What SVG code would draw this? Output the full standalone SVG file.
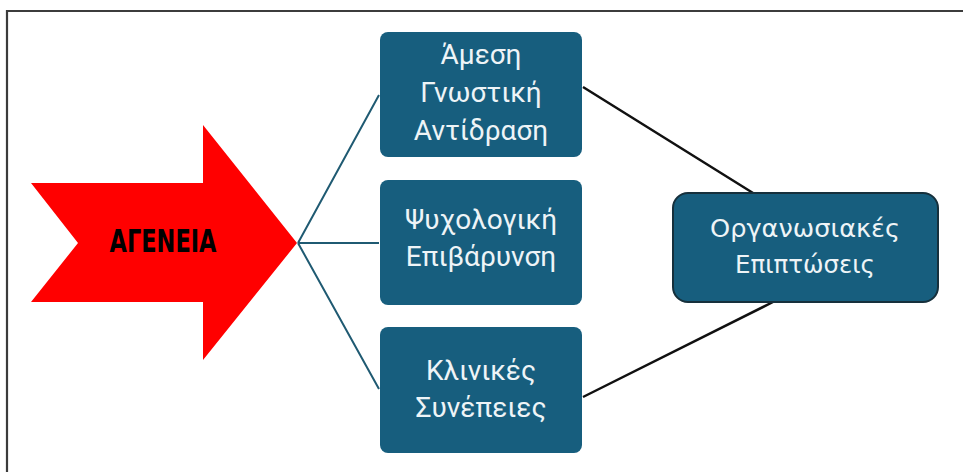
<svg xmlns="http://www.w3.org/2000/svg" width="963" height="472" viewBox="0 0 963 472">
<style>
.box{fill:#175e7e;}
.t{font-family:Roboto,"Noto Sans","DejaVu Sans",sans-serif;font-size:28px;fill:#eef4f7;text-anchor:middle;}
.r{font-family:"DejaVu Sans","Noto Sans",sans-serif;font-size:25px;fill:#eef4f7;text-anchor:middle;}
.c1{stroke:#1f5a72;stroke-width:2;fill:none;}
.c2{stroke:#111;stroke-width:2.5;fill:none;}
</style>
<rect width="963" height="472" fill="#fff"/>
<path d="M7,472 V11 H963" fill="none" stroke="#3c3c3c" stroke-width="2.2"/>
<g id="connectors">
<path class="c1" d="M298,243 L379,95 M298,243 L379,243 M298,243 L379,389"/>
<path class="c2" d="M583,87 L753,193 M583,397 L773,302"/>
</g>
<g id="ageneia">
<polygon points="31,183 203,183 203,125 297,243 203,360 203,302 31,302 78,243" fill="#ff0000"/>
<text x="163" y="252" font-family="'DejaVu Sans Condensed','DejaVu Sans',sans-serif" font-weight="bold" font-size="31" fill="#000" text-anchor="middle" textLength="107" lengthAdjust="spacingAndGlyphs">ΑΓΕΝΕΙΑ</text>
</g>
<g id="box1">
<rect class="box" x="380" y="32" width="202" height="125" rx="8"/>
<text class="t" x="481" y="64">Άμεση</text>
<text class="t" x="481" y="102">Γνωστική</text>
<text class="t" x="481" y="140">Αντίδραση</text>
</g>
<g id="box2">
<rect class="box" x="380" y="180" width="202" height="125" rx="8"/>
<text class="t" x="481" y="229">Ψυχολογική</text>
<text class="t" x="481" y="266">Επιβάρυνση</text>
</g>
<g id="box3">
<rect class="box" x="380" y="327" width="202" height="126" rx="8"/>
<text class="t" x="481" y="380">Κλινικές</text>
<text class="t" x="481" y="417">Συνέπειες</text>
</g>
<g id="box4">
<rect x="673" y="193" width="265" height="109" rx="15" fill="#175e7e" stroke="#16303c" stroke-width="2"/>
<text class="r" x="805" y="237" textLength="190" lengthAdjust="spacingAndGlyphs">Οργανωσιακές</text>
<text class="r" x="805" y="273" textLength="140" lengthAdjust="spacingAndGlyphs">Επιπτώσεις</text>
</g>
</svg>
